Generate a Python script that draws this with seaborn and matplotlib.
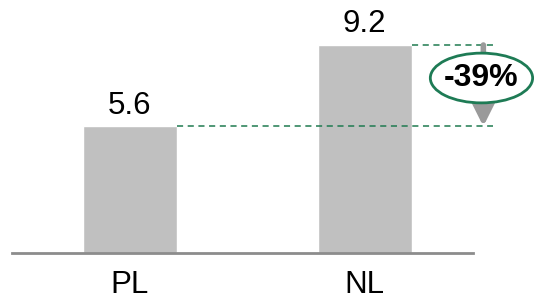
import matplotlib
matplotlib.use("Agg")
import matplotlib.pyplot as plt
from matplotlib.patches import Ellipse
import seaborn as sns
import pandas as pd

categories = ["PL", "NL"]
values = [5.6, 9.2]
value_labels = ["5.6", "9.2"]
change_label = "-39%"

sns.set_theme(style="white")
plt.rcParams["font.family"] = ["Liberation Sans", "DejaVu Sans"]

W, H = 534, 301
fig = plt.figure(figsize=(W / 100, H / 100), dpi=100)
ax = fig.add_axes([12 / W, 48 / H, 461 / W, 253 / H])

df = pd.DataFrame({"country": categories, "value": values})
sns.barplot(data=df, x="country", y="value", color="#C0C0C0", saturation=1,
            width=0.4, ax=ax)

ax.set_xlim(-0.5, 1.46)
ax.set_ylim(0, 11.19)
ax.set_xlabel("")
ax.set_ylabel("")
ax.set_yticks([])
for s in ["top", "right", "left"]:
    ax.spines[s].set_visible(False)
ax.spines["bottom"].set_color("#8C8C8C")
ax.spines["bottom"].set_linewidth(2)
ax.tick_params(axis="x", length=0, pad=12, labelsize=22.5, labelcolor="black")

for i, (v, lab) in enumerate(zip(values, value_labels)):
    ax.annotate(lab, xy=(i, v), xytext=(0, 4), textcoords="offset points",
                ha="center", va="bottom", fontsize=22.5, color="black")

green = "#1F7A50"
x_end = 1.545
ax.plot([0.2, x_end], [values[0], values[0]], ls=(0, (4, 3)), color=green,
        lw=1.1, clip_on=False)
ax.plot([1.2, x_end], [values[1], values[1]], ls=(0, (4, 3)), color=green,
        lw=1.1, clip_on=False)

x_arr = 1.504
ax.annotate("", xy=(x_arr, values[0]), xytext=(x_arr, values[1]),
            arrowprops=dict(arrowstyle="-|>,head_width=0.5,head_length=1.0",
                            mutation_scale=20, lw=4, color="#9A9A9A",
                            shrinkA=0, shrinkB=0),
            annotation_clip=False)

ell = Ellipse((1.496, 7.74), width=0.435, height=2.2, facecolor="white",
              edgecolor="#1E7B55", lw=2, clip_on=False, zorder=5)
ax.add_patch(ell)
ax.text(1.496, 7.72, change_label, ha="center", va="center", fontsize=23,
        fontweight="bold", color="black", zorder=6, clip_on=False)

fig.savefig("out.png", dpi=100)
